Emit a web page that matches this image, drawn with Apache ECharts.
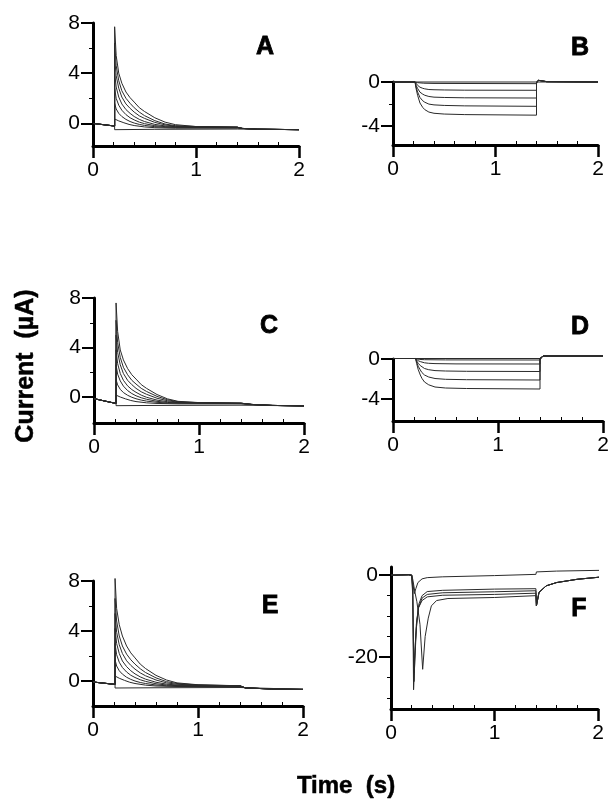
<!DOCTYPE html>
<html>
<head>
<meta charset="utf-8">
<script src="https://cdn.jsdelivr.net/npm/echarts@6/dist/echarts.min.js"></script>
<style>
  html, body { margin: 0; padding: 0; background: #fff; }
  #chart { width: 610px; height: 805px; }
</style>
</head>
<body>
<div id="chart"></div>
<script>
  // tick labels
  const xLabels = [0, 1, 2];
  const xMinor = [0.2, 0.4, 0.6, 0.8, 1.2, 1.4, 1.6, 1.8];
  const yLabelsPos = [0, 4, 8];
  const yMinorPos = [2, 6];
  const yLabelsNeg = [0, -4];
  const yMinorNeg = [-2];
  const yLabelsF = [0, -20];
  const yMinorF = [-5, -10, -15, -25, -30];
  const panelLetters = ['A', 'B', 'C', 'D', 'E', 'F'];

  // panel A (time s, current uA)
  const aPre = [[0, 0.0], [0.1, -0.1], [0.21, -0.21]];
  const aPost = [[1.45, -0.4], [1.6, -0.46], [2.0, -0.5]];
  const a1 = [[0.21, 7.7], [0.225, 5.4], [0.25, 4.0], [0.28, 3.2], [0.32, 2.5], [0.36, 2.05], [0.4, 1.7], [0.45, 1.25], [0.5, 0.95], [0.6, 0.45], [0.7, 0.1], [0.8, -0.1], [1.0, -0.25], [1.4, -0.3]];
  const a2 = [[0.21, 6.4], [0.225, 4.6], [0.25, 3.4], [0.28, 2.6], [0.32, 2.0], [0.36, 1.6], [0.4, 1.25], [0.45, 0.9], [0.5, 0.62], [0.6, 0.22], [0.7, -0.05], [0.8, -0.18], [1.0, -0.25], [1.4, -0.3]];
  const a3 = [[0.21, 5.2], [0.225, 3.8], [0.25, 2.8], [0.28, 2.1], [0.32, 1.55], [0.36, 1.2], [0.4, 0.9], [0.45, 0.6], [0.5, 0.4], [0.6, 0.08], [0.7, -0.12], [0.8, -0.22], [1.0, -0.27], [1.4, -0.3]];
  const a4 = [[0.21, 4.0], [0.225, 2.9], [0.25, 2.1], [0.28, 1.55], [0.32, 1.1], [0.36, 0.8], [0.4, 0.55], [0.45, 0.32], [0.5, 0.15], [0.6, -0.08], [0.7, -0.2], [0.8, -0.26], [1.0, -0.28], [1.4, -0.3]];
  const a5 = [[0.21, 2.8], [0.225, 2.0], [0.25, 1.45], [0.28, 1.05], [0.32, 0.7], [0.36, 0.45], [0.4, 0.28], [0.45, 0.1], [0.5, -0.02], [0.6, -0.18], [0.7, -0.26], [0.8, -0.3], [1.4, -0.32]];
  const a6 = [[0.21, 1.6], [0.225, 1.15], [0.25, 0.8], [0.28, 0.55], [0.32, 0.32], [0.36, 0.15], [0.4, 0.03], [0.45, -0.08], [0.5, -0.16], [0.6, -0.26], [0.7, -0.31], [1.4, -0.34]];
  const a7 = [[0.21, 0.35], [0.25, 0.2], [0.3, 0.05], [0.35, -0.08], [0.4, -0.17], [0.5, -0.28], [0.6, -0.34], [0.8, -0.38], [1.4, -0.38]];
  const a8 = [[0.21, -0.5], [0.6, -0.47], [1.4, -0.45], [2.0, -0.5]];

  // panel B
  const bZero = [[0, 0], [2, 0]];
  const bPre = [[0, 0], [0.215, 0]];
  const bPost = [[1.4, 0], [1.42, 0.15], [1.5, 0.03], [2.0, 0]];
  const b1 = [[0.24, -0.06], [0.3, -0.11], [0.4, -0.13], [1.4, -0.15]];
  const b2 = [[0.225, -0.15], [0.24, -0.3], [0.263, -0.47], [0.29, -0.57], [0.31, -0.62], [0.35, -0.68], [0.4, -0.7], [0.5, -0.72], [0.7, -0.74], [1.4, -0.75]];
  const b3 = [[0.225, -0.3], [0.24, -0.58], [0.263, -0.92], [0.29, -1.1], [0.31, -1.2], [0.35, -1.31], [0.4, -1.37], [0.5, -1.4], [0.7, -1.43], [1.4, -1.45]];
  const b4 = [[0.225, -0.45], [0.24, -0.9], [0.263, -1.4], [0.29, -1.7], [0.31, -1.83], [0.35, -2.0], [0.4, -2.07], [0.5, -2.12], [0.7, -2.16], [1.4, -2.2]];
  const b5 = [[0.225, -0.6], [0.24, -1.2], [0.263, -1.9], [0.29, -2.3], [0.31, -2.5], [0.35, -2.72], [0.4, -2.83], [0.5, -2.9], [0.7, -2.95], [1.4, -3.0]];

  // panel C
  const cPre = [[0, -0.13], [0.1, -0.32], [0.21, -0.52]];
  const cPost = [[1.5, -0.6], [1.7, -0.68], [2.0, -0.72]];
  const c1 = [[0.21, 7.6], [0.225, 5.3], [0.25, 3.8], [0.28, 3.0], [0.32, 2.3], [0.36, 1.8], [0.4, 1.45], [0.45, 1.0], [0.5, 0.7], [0.6, 0.2], [0.7, -0.15], [0.8, -0.35], [1.0, -0.45], [1.4, -0.5]];
  const c2 = [[0.21, 6.2], [0.225, 4.4], [0.25, 3.2], [0.28, 2.4], [0.32, 1.8], [0.36, 1.35], [0.4, 1.05], [0.45, 0.7], [0.5, 0.45], [0.6, 0.05], [0.7, -0.22], [0.8, -0.38], [1.0, -0.46], [1.4, -0.5]];
  const c3 = [[0.21, 5.0], [0.225, 3.6], [0.25, 2.6], [0.28, 1.9], [0.32, 1.35], [0.36, 1.0], [0.4, 0.7], [0.45, 0.42], [0.5, 0.22], [0.6, -0.1], [0.7, -0.3], [0.8, -0.42], [1.0, -0.48], [1.4, -0.5]];
  const c4 = [[0.21, 3.8], [0.225, 2.7], [0.25, 1.9], [0.28, 1.35], [0.32, 0.9], [0.36, 0.6], [0.4, 0.38], [0.45, 0.15], [0.5, -0.02], [0.6, -0.25], [0.7, -0.38], [0.8, -0.45], [1.4, -0.5]];
  const c5 = [[0.21, 2.6], [0.225, 1.85], [0.25, 1.3], [0.28, 0.88], [0.32, 0.52], [0.36, 0.28], [0.4, 0.1], [0.45, -0.06], [0.5, -0.18], [0.6, -0.35], [0.7, -0.44], [0.8, -0.48], [1.4, -0.52]];
  const c6 = [[0.21, 1.4], [0.225, 0.98], [0.25, 0.62], [0.28, 0.36], [0.32, 0.14], [0.36, -0.02], [0.4, -0.14], [0.45, -0.25], [0.5, -0.33], [0.6, -0.43], [0.7, -0.49], [1.4, -0.53]];
  const c7 = [[0.21, 0.15], [0.25, 0.0], [0.3, -0.15], [0.35, -0.28], [0.4, -0.37], [0.5, -0.47], [0.6, -0.52], [0.8, -0.55], [1.4, -0.55]];
  const c8 = [[0.21, -0.7], [0.6, -0.68], [1.4, -0.66], [2.0, -0.72]];

  // panel D
  const dZero = [[0, 0.05], [1.4, 0.05], [1.43, 0.3], [2, 0.3]];
  const dPre = [[0, 0.05], [0.215, 0.05]];
  const dPost = [[1.4, 0.05], [1.43, 0.3], [2.0, 0.3]];
  const d1 = [[0.25, -0.04], [0.3, -0.07], [0.5, -0.09], [1.4, -0.1]];
  const d2 = [[0.225, -0.07], [0.24, -0.17], [0.26, -0.26], [0.3, -0.38], [0.34, -0.43], [0.4, -0.46], [0.6, -0.49], [1.4, -0.5]];
  const d3 = [[0.225, -0.18], [0.24, -0.43], [0.26, -0.66], [0.275, -0.8], [0.3, -0.95], [0.34, -1.07], [0.4, -1.16], [0.5, -1.2], [0.7, -1.23], [1.4, -1.25]];
  const d4 = [[0.225, -0.3], [0.24, -0.72], [0.26, -1.1], [0.275, -1.35], [0.3, -1.6], [0.34, -1.8], [0.4, -1.95], [0.5, -2.03], [0.7, -2.07], [1.4, -2.1]];
  const d5 = [[0.225, -0.45], [0.24, -1.05], [0.26, -1.6], [0.275, -1.93], [0.3, -2.3], [0.34, -2.58], [0.4, -2.8], [0.5, -2.9], [0.7, -2.95], [1.4, -3.0]];

  // panel E
  const ePre = [[0, -0.08], [0.1, -0.17], [0.21, -0.27]];
  const ePost = [[1.45, -0.55], [1.7, -0.64], [2.0, -0.67]];
  const e1 = [[0.21, 8.2], [0.225, 5.8], [0.25, 4.5], [0.28, 3.6], [0.32, 2.8], [0.36, 2.25], [0.4, 1.85], [0.45, 1.35], [0.5, 1.0], [0.6, 0.45], [0.7, 0.08], [0.8, -0.15], [1.0, -0.3], [1.4, -0.38]];
  const e2 = [[0.21, 6.6], [0.225, 4.8], [0.25, 3.6], [0.28, 2.8], [0.32, 2.15], [0.36, 1.7], [0.4, 1.35], [0.45, 0.98], [0.5, 0.68], [0.6, 0.25], [0.7, -0.05], [0.8, -0.2], [1.0, -0.32], [1.4, -0.38]];
  const e3 = [[0.21, 5.4], [0.225, 3.9], [0.25, 2.9], [0.28, 2.2], [0.32, 1.62], [0.36, 1.25], [0.4, 0.95], [0.45, 0.65], [0.5, 0.42], [0.6, 0.08], [0.7, -0.15], [0.8, -0.26], [1.0, -0.34], [1.4, -0.38]];
  const e4 = [[0.21, 4.2], [0.225, 3.0], [0.25, 2.2], [0.28, 1.6], [0.32, 1.15], [0.36, 0.82], [0.4, 0.57], [0.45, 0.33], [0.5, 0.15], [0.6, -0.1], [0.7, -0.25], [0.8, -0.32], [1.4, -0.4]];
  const e5 = [[0.21, 3.0], [0.225, 2.1], [0.25, 1.5], [0.28, 1.08], [0.32, 0.72], [0.36, 0.46], [0.4, 0.28], [0.45, 0.1], [0.5, -0.03], [0.6, -0.22], [0.7, -0.32], [0.8, -0.37], [1.4, -0.4]];
  const e6 = [[0.21, 1.7], [0.225, 1.2], [0.25, 0.82], [0.28, 0.55], [0.32, 0.3], [0.36, 0.13], [0.4, 0.0], [0.45, -0.12], [0.5, -0.2], [0.6, -0.32], [0.7, -0.38], [1.4, -0.42]];
  const e7 = [[0.21, 0.4], [0.25, 0.22], [0.3, 0.05], [0.35, -0.1], [0.4, -0.2], [0.5, -0.33], [0.6, -0.4], [0.8, -0.44], [1.4, -0.44]];
  const e8 = [[0.21, -0.56], [0.6, -0.54], [1.4, -0.52], [2.0, -0.67]];

  // panel F
  const fPre = [[0, 0], [0.17, 0.1], [0.2, 0]];
  const fPost = [[1.405, -7.5], [1.43, -4.2], [1.5, -2.6], [1.6, -1.8], [1.8, -1.0], [2.05, -0.4]];
  const f1 = [[0.21, -0.3], [0.225, -4.5], [0.24, -3.3], [0.26, -1.8], [0.3, -0.9], [0.35, -0.6], [0.5, -0.4], [1.0, -0.1], [1.4, 0.2], [1.405, 0.8], [1.6, 1.0], [2.05, 1.2]];
  const f2 = [[0.21, -5], [0.218, -28], [0.225, -24], [0.235, -17], [0.25, -11], [0.27, -7], [0.3, -5], [0.35, -4.0], [0.5, -3.7], [1.0, -3.4], [1.4, -3.3]];
  const f3 = [[0.21, -4], [0.222, -26], [0.23, -21], [0.245, -13], [0.265, -8], [0.3, -5.6], [0.35, -4.7], [0.5, -4.3], [1.0, -4.05], [1.4, -3.8]];
  const f4 = [[0.21, -1], [0.23, -4], [0.25, -6.5], [0.28, -12], [0.306, -23], [0.315, -20], [0.33, -15], [0.36, -10.5], [0.39, -7.5], [0.44, -6.2], [0.55, -5.7], [1.0, -5.45], [1.4, -5.0]];
  const f5 = [[0.21, -3], [0.22, -24], [0.23, -19], [0.245, -12], [0.265, -8], [0.3, -6.2], [0.35, -5.3], [0.5, -4.9], [1.0, -4.7], [1.4, -4.4]];

  const panelTraces = [
    [a1, a2, a3, a4, a5, a6, a7].map(t => aPre.concat(t, aPost)).concat([aPre.concat(a8)]),
    [bZero].concat([b1, b2, b3, b4, b5].map(t => bPre.concat(t, bPost))),
    [c1, c2, c3, c4, c5, c6, c7].map(t => cPre.concat(t, cPost)).concat([cPre.concat(c8)]),
    [dZero].concat([d1, d2, d3, d4, d5].map(t => dPre.concat(t, dPost))),
    [e1, e2, e3, e4, e5, e6, e7].map(t => ePre.concat(t, ePost)).concat([ePre.concat(e8)]),
    [fPre.concat(f1)].concat([f2, f3, f4, f5].map(t => fPre.concat(t, fPost)))
  ];

  // layout of each small plot
  const layouts = [
    { left: 93, top: 23, width: 206, height: 123, min: -1.8, max: 8, labels: yLabelsPos, minor: yMinorPos, lx: 265, ly: 47 },
    { left: 393, top: 82, width: 205, height: 63, min: -5.7, max: 0, labels: yLabelsNeg, minor: yMinorNeg, lx: 580, ly: 48 },
    { left: 94, top: 298, width: 210, height: 125, min: -2.1, max: 8, labels: yLabelsPos, minor: yMinorPos, lx: 269, ly: 326 },
    { left: 393, top: 359, width: 210, height: 62, min: -6.2, max: 0, labels: yLabelsNeg, minor: yMinorNeg, lx: 580, ly: 327 },
    { left: 93, top: 581, width: 210, height: 125, min: -2, max: 8, labels: yLabelsPos, minor: yMinorPos, lx: 270, ly: 606 },
    { left: 391, top: 567, width: 207, height: 142, min: -32.7, max: 2, labels: yLabelsF, minor: yMinorF, lx: 579, ly: 609 }
  ];

  const FONT = '"Liberation Sans", Arial, Helvetica, sans-serif';
  const grid = [], xAxis = [], yAxis = [], series = [], graphic = [];

  layouts.forEach(function (p, i) {
    grid.push({ left: p.left, top: p.top, width: p.width, height: p.height, outerBoundsMode: 'none' });

    // main x axis
    xAxis.push({
      gridIndex: i, type: 'value', min: 0, max: 2, interval: 1, position: 'bottom',
      axisLine: { onZero: false, lineStyle: { color: '#000', width: 3 } },
      axisTick: { length: 12, lineStyle: { color: '#000', width: 2.5 } },
      axisLabel: { margin: 14, fontSize: 21, fontFamily: FONT, color: '#000' },
      splitLine: { show: false }
    });
    // minor x ticks, pointing up
    xAxis.push({
      gridIndex: i, type: 'value', min: 0, max: 2, position: 'bottom',
      axisLine: { show: false, onZero: false },
      axisTick: { inside: true, length: 4, customValues: xMinor, lineStyle: { color: '#000', width: 1 } },
      axisLabel: { show: false },
      splitLine: { show: false }
    });

    yAxis.push({
      gridIndex: i, type: 'value', min: p.min, max: p.max, position: 'left',
      axisLine: { onZero: false, lineStyle: { color: '#000', width: 3 } },
      axisTick: { length: 12, customValues: p.labels, lineStyle: { color: '#000', width: 2 } },
      axisLabel: { margin: 13, fontSize: 21, fontFamily: FONT, color: '#000', customValues: p.labels },
      splitLine: { show: false }
    });
    yAxis.push({
      gridIndex: i, type: 'value', min: p.min, max: p.max, position: 'left',
      axisLine: { show: false, onZero: false },
      axisTick: { length: 4, customValues: p.minor, lineStyle: { color: '#000', width: 1 } },
      axisLabel: { show: false },
      splitLine: { show: false }
    });

    panelTraces[i].forEach(function (d) {
      series.push({
        type: 'line', xAxisIndex: 2 * i, yAxisIndex: 2 * i, data: d,
        showSymbol: false, clip: false, silent: true,
        lineStyle: { color: '#2a2a2a', width: 1 }
      });
    });

    // panel letter, heavy like the original
    graphic.push({
      type: 'text', x: p.lx, y: p.ly,
      style: { text: panelLetters[i], font: 'bold 25px ' + FONT, fill: '#000', stroke: '#000', lineWidth: 0.8, align: 'center', verticalAlign: 'middle' }
    });
  });

  graphic.push({
    type: 'text', x: 26, y: 366, rotation: Math.PI / 2,
    style: { text: 'Current  (µA)', font: 'bold 25px ' + FONT, fill: '#000', stroke: '#000', lineWidth: 0.5, align: 'center', verticalAlign: 'middle' }
  });
  graphic.push({
    type: 'text', x: 346, y: 786,
    style: { text: 'Time  (s)', font: 'bold 24px ' + FONT, fill: '#000', stroke: '#000', lineWidth: 0.5, align: 'center', verticalAlign: 'middle' }
  });

  const myChart = echarts.init(document.getElementById('chart'));
  myChart.setOption({
    animation: false,
    backgroundColor: '#fff',
    grid: grid,
    xAxis: xAxis,
    yAxis: yAxis,
    series: series,
    graphic: graphic
  });
</script>
</body>
</html>
